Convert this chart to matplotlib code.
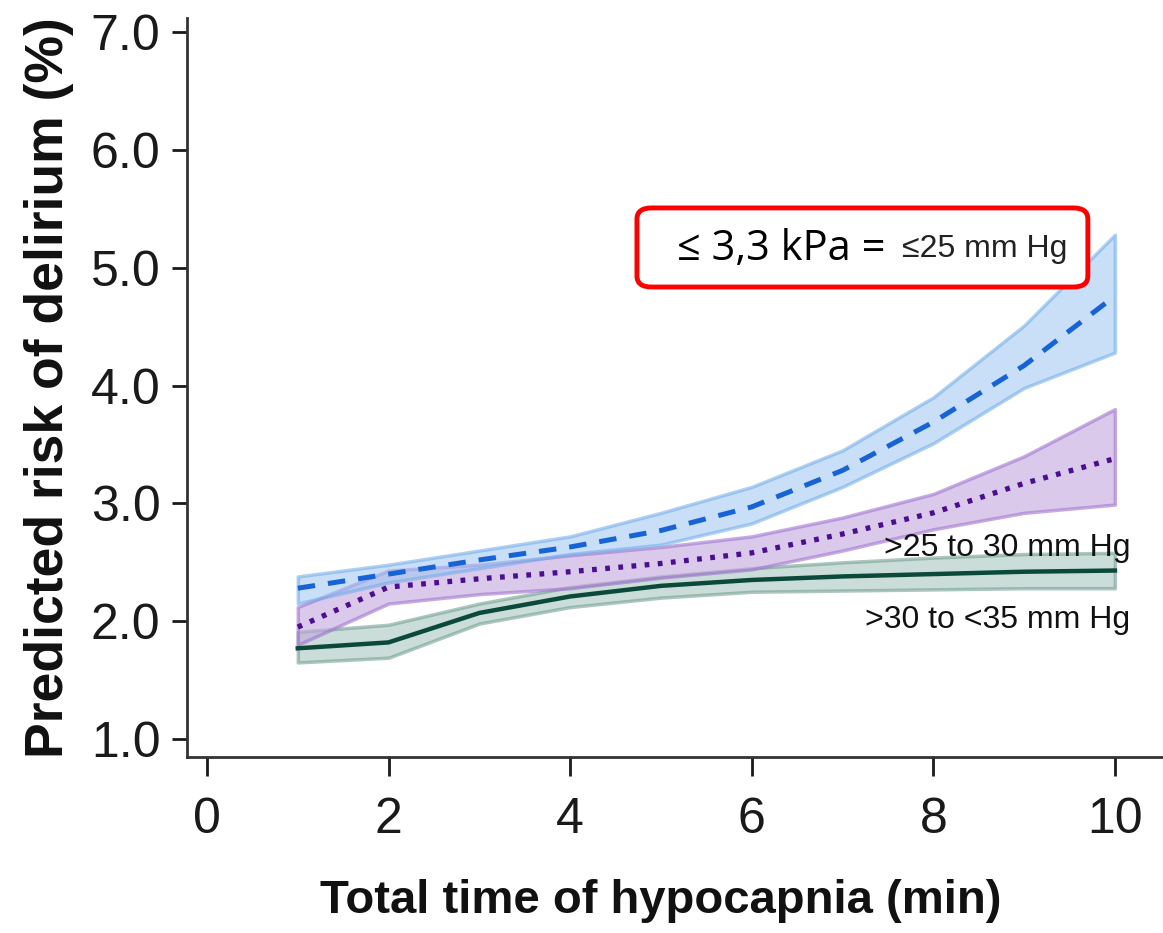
import matplotlib
matplotlib.use("Agg")
import matplotlib.pyplot as plt
from matplotlib.patches import FancyBboxPatch

# 数据
minutes = [1, 2, 3, 4, 5, 6, 7, 8, 9, 10]

# <=25 mm Hg
blue_mid = [2.28, 2.40, 2.52, 2.63, 2.77, 2.97, 3.28, 3.69, 4.17, 4.76]
blue_lo = [2.15, 2.33, 2.45, 2.57, 2.65, 2.83, 3.14, 3.51, 3.98, 4.28]
blue_hi = [2.38, 2.48, 2.60, 2.72, 2.92, 3.14, 3.45, 3.90, 4.51, 5.28]

# >25 to 30 mm Hg
purple_mid = [1.95, 2.29, 2.36, 2.42, 2.49, 2.58, 2.74, 2.92, 3.17, 3.38]
purple_lo = [1.80, 2.15, 2.23, 2.28, 2.37, 2.44, 2.60, 2.78, 2.92, 2.99]
purple_hi = [2.12, 2.43, 2.48, 2.56, 2.63, 2.72, 2.88, 3.08, 3.40, 3.80]

# >30 to <35 mm Hg
green_mid = [1.77, 1.82, 2.07, 2.21, 2.30, 2.35, 2.38, 2.40, 2.42, 2.43]
green_lo = [1.65, 1.69, 1.98, 2.12, 2.20, 2.25, 2.26, 2.27, 2.28, 2.28]
green_hi = [1.91, 1.97, 2.15, 2.29, 2.38, 2.45, 2.50, 2.54, 2.57, 2.58]

xticks = [0, 2, 4, 6, 8, 10]
yticks = [1.0, 2.0, 3.0, 4.0, 5.0, 6.0, 7.0]

plt.rcParams['font.family'] = ['Liberation Sans', 'DejaVu Sans']

fig = plt.figure(figsize=(11.63, 9.33), dpi=100)
ax = fig.add_axes([0.1608, 0.1886, 0.8392, 0.7921])

# 置信带
ax.fill_between(minutes, green_lo, green_hi, facecolor='#9fc2b8', alpha=0.55,
                edgecolor='#6a998c', linewidth=2.5, zorder=2)
ax.fill_between(minutes, purple_lo, purple_hi, facecolor='#c3a6df', alpha=0.6,
                edgecolor='#9f74cf', linewidth=2.5, zorder=2)
ax.fill_between(minutes, blue_lo, blue_hi, facecolor='#9cc6f2', alpha=0.55,
                edgecolor='#6eaaea', linewidth=2.5, zorder=2)

# 预测曲线
ax.plot(minutes, green_mid, color='#0b4a3a', linewidth=3.2, zorder=3)
ax.plot(minutes, purple_mid, color='#4a0e8f', linewidth=3.8, linestyle=(0, (0.9, 1.6)), zorder=3)
ax.plot(minutes, blue_mid, color='#1763d6', linewidth=3.6, linestyle=(0, (3.5, 2.6)), zorder=3)

ax.set_xlim(-0.22, 10.53)
ax.set_ylim(0.847, 7.12)
ax.set_xticks(xticks)
ax.set_xticklabels([str(v) for v in xticks])
ax.set_yticks(yticks)
ax.set_yticklabels(['%.1f' % v for v in yticks])

for side in ['top', 'right']:
    ax.spines[side].set_visible(False)
for side in ['left', 'bottom']:
    ax.spines[side].set_linewidth(2)
    ax.spines[side].set_color('#333333')

ax.tick_params(axis='x', length=14, width=2, pad=15, labelsize=36, colors='#1a1a1a')
ax.tick_params(axis='y', length=11, width=2, pad=8, labelsize=36, colors='#1a1a1a')

ax.set_xlabel('Total time of hypocapnia (min)', fontsize=34, fontweight='bold',
              color='#111111')
ax.xaxis.set_label_coords(0.485, -0.165)
ax.set_ylabel('Predicted risk of delirium (%)', fontsize=38.5, fontweight='bold',
              labelpad=12, color='#111111')

# 曲线标签
ax.text(10.17, 2.62, '>25 to 30 mm Hg', fontsize=23, ha='right', va='center', color='#111111')
ax.text(10.17, 2.01, '>30 to <35 mm Hg', fontsize=23, ha='right', va='center', color='#111111')

# 红框注释
box = FancyBboxPatch((0.461, 0.636), 0.462, 0.107, transform=ax.transAxes,
                     boxstyle='round,pad=0,rounding_size=0.015', facecolor='white',
                     edgecolor='#ff0000', linewidth=3.5, zorder=5)
ax.add_patch(box)
ax.text(0.502, 0.688, '≤ 3,3 kPa =', transform=ax.transAxes, fontsize=30,
        family=['Open Sans', 'DejaVu Sans'], ha='left', va='center', zorder=6)
ax.text(0.733, 0.688, '≤25 mm Hg', transform=ax.transAxes, fontsize=23,
        ha='left', va='center', color='#222222', zorder=6)

plt.savefig('out.png', dpi=100)
